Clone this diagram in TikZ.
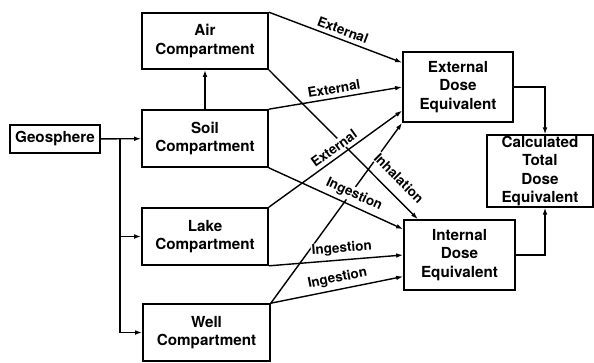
\documentclass[tikz,border=0pt]{standalone}
\usepackage{fontspec}
\setmainfont{TeX Gyre Heros}
\usetikzlibrary{arrows.meta,calc}
\tikzset{
  box/.style={draw, line width=1.4pt, align=center, inner sep=1pt,
              font=\fontsize{13}{15.5}\selectfont\bfseries},
  flow/.style={line width=1.2pt, -{Latex[length=6pt,width=4pt]}},
  lbl/.style={sloped, above=2.5pt, fill=white, inner sep=0.8pt,
              font=\fontsize{11.5}{12}\selectfont\bfseries},
}

\begin{document}
\begin{tikzpicture}[x=0.03cm, y=-0.03cm]
    \useasboundingbox (0,0) rectangle (594,362);
    % compartments
    \node[box, minimum width=3.78cm, minimum height=1.68cm] (air)  at (205.0, 41.0) {Air\\Compartment};
    \node[box, minimum width=3.78cm, minimum height=1.71cm] (soil) at (205.0,138.5) {Soil\\Compartment};
    \node[box, minimum width=3.78cm, minimum height=1.71cm] (lake) at (205.0,236.5) {Lake\\Compartment};
    \node[box, minimum width=3.81cm, minimum height=1.71cm] (well) at (206.5,332.5) {Well\\Compartment};
    \node[box, minimum width=2.70cm, minimum height=0.84cm] (geo)  at ( 55.0,139.0) {Geosphere};
    % dose equivalents
    \node[box, minimum width=3.30cm, minimum height=2.10cm] (ext)  at (458.0, 87.0) {External\\Dose\\Equivalent};
    \node[box, minimum width=3.33cm, minimum height=2.10cm] (int)  at (459.5,255.0) {Internal\\Dose\\Equivalent};
    \node[box, minimum width=3.18cm, minimum height=2.10cm] (tot)  at (540.0,171.0) {Calculated\\Total\\Dose\\Equivalent};

    % geosphere to compartments
    \coordinate (split) at (120,139);
    \draw[flow] (geo) -- (soil);
    \draw[flow] (split) |- (well.west);
    \draw[flow] (split |- lake.west) -- (lake.west);
    \draw[flow] (soil) -- (air);

    % pathways (drawn in order, labels cover the lines behind them)
    \draw[flow] (well.north east) -- (ext.south west);
    \draw[flow] (air.south east)  -- ($(int.north west)!0.13!(int.north east)$) node[lbl, pos=0.80, above=5pt] {Inhalation};
    \draw[flow] (air.north east)  -- ($(ext.north west)!0.16!(ext.south west)$) node[lbl, pos=0.53] {External};
    \draw[flow] (soil.north east) -- (ext.west)                                   node[lbl, pos=0.50] {External};
    \draw[flow] (lake.north east) -- ($(ext.north west)!0.83!(ext.south west)$) node[lbl, pos=0.53] {External};
    \draw[flow] (soil.south east) -- ($(int.north west)!0.14!(int.south west)$) node[lbl, pos=0.60] {Ingestion};
    \draw[flow] (lake.south east) -- (int.west)                                   node[lbl, pos=0.55] {Ingestion};
    \draw[flow] (well.north east) -- ($(int.north west)!0.80!(int.south west)$) node[lbl, pos=0.52] {Ingestion};

    % total
    \draw[flow] (ext.east) -| ([xshift=0.15cm]tot.north);
    \draw[flow] (int.east) -| ([xshift=0.15cm]tot.south);
\end{tikzpicture}
\end{document}
